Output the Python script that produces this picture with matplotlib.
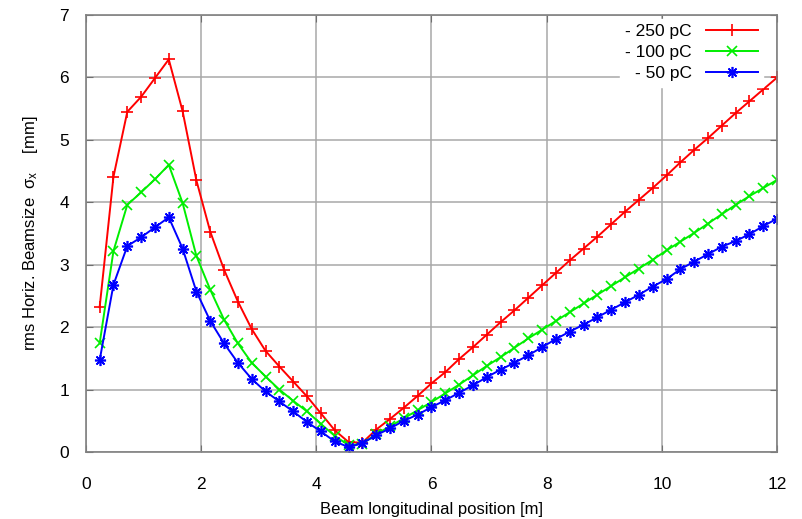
import matplotlib
matplotlib.use('Agg')
import matplotlib.pyplot as plt

# positions along the beamline [m], one every 0.24 m
position = [0.24 * k for k in range(1, 51)]

# rms horizontal beam size [mm]
sigma_250 = [2.32, 4.41, 5.45, 5.69, 5.99, 6.29, 5.46, 4.35, 3.53, 2.92,
             2.41, 1.97, 1.62, 1.37, 1.13, 0.89, 0.62, 0.35, 0.16, 0.15,
             0.36, 0.53, 0.71, 0.90, 1.10, 1.28, 1.49, 1.68, 1.88, 2.08,
             2.27, 2.47, 2.67, 2.87, 3.07, 3.26, 3.45, 3.65, 3.85, 4.04,
             4.23, 4.43, 4.64, 4.84, 5.03, 5.23, 5.43, 5.62, 5.81, 6.00]
sigma_100 = [1.74, 3.22, 3.96, 4.16, 4.37, 4.60, 3.99, 3.14, 2.60, 2.12,
             1.74, 1.43, 1.21, 1.00, 0.82, 0.65, 0.45, 0.26, 0.11, 0.13,
             0.29, 0.41, 0.54, 0.67, 0.80, 0.94, 1.08, 1.23, 1.38, 1.52,
             1.67, 1.82, 1.96, 2.10, 2.24, 2.38, 2.52, 2.66, 2.80, 2.94,
             3.08, 3.23, 3.37, 3.51, 3.66, 3.81, 3.96, 4.10, 4.23, 4.36]
sigma_50 = [1.47, 2.68, 3.30, 3.44, 3.60, 3.76, 3.26, 2.57, 2.10, 1.74,
            1.43, 1.17, 0.97, 0.81, 0.65, 0.48, 0.33, 0.17, 0.08, 0.14,
            0.27, 0.38, 0.50, 0.60, 0.72, 0.83, 0.95, 1.07, 1.20, 1.32,
            1.43, 1.55, 1.68, 1.81, 1.93, 2.04, 2.16, 2.28, 2.40, 2.52,
            2.65, 2.77, 2.93, 3.05, 3.17, 3.29, 3.38, 3.49, 3.62, 3.74]

labels = ['- 250 pC', '- 100 pC', '- 50 pC']
x_ticks = [0, 2, 4, 6, 8, 10, 12]
y_ticks = [0, 1, 2, 3, 4, 5, 6, 7]

plt.rcParams['font.family'] = ['Liberation Sans', 'DejaVu Sans']

fig = plt.figure(figsize=(8.02, 5.19), dpi=100)
ax = fig.add_axes([0.107, 0.129, 0.862, 0.842])

ax.plot(position, sigma_250, color='#ff0000', lw=1.4, marker='+', ms=8, mew=1.2, label=labels[0])
ax.plot(position, sigma_100, color='#00ee00', lw=1.4, marker='x', ms=6.5, mew=1.2, label=labels[1])
ax.plot(position, sigma_50, color='#0000ff', lw=1.4, marker=(8, 2, 0), ms=8, mew=1.2, label=labels[2])

ax.set_xlim(0, 12)
ax.set_ylim(0, 7)
ax.set_xticks(x_ticks)
ax.set_yticks(y_ticks)
ax.grid(True, color='#a8a8a8', lw=1.1)
ax.set_axisbelow(True)
ax.tick_params(direction='in', length=5, color='#707070', labelsize=12.5,
               top=True, right=True)
ax.tick_params(axis='x', pad=18)
ax.tick_params(axis='y', pad=12)
for s in ax.spines.values():
    s.set_color('#808080')
    s.set_linewidth(1.2)

ax.set_xlabel('Beam longitudinal position [m]', fontsize=12, labelpad=7)
ax.set_ylabel(r'rms Horiz. Beamsize  $\mathregular{\sigma_x}$    [mm]', fontsize=12, labelpad=14)

leg = ax.legend(loc='upper right', markerfirst=False, frameon=True, fontsize=12.5,
                handlelength=3.0, borderaxespad=0.2, borderpad=0.3, labelspacing=0.35,
                fancybox=False, bbox_to_anchor=(0.985, 1.0))
leg.get_frame().set_edgecolor('white')
leg.get_frame().set_alpha(1)
for t in leg.get_texts():
    t.set_ha('right')

fig.savefig('out.png', dpi=100)
